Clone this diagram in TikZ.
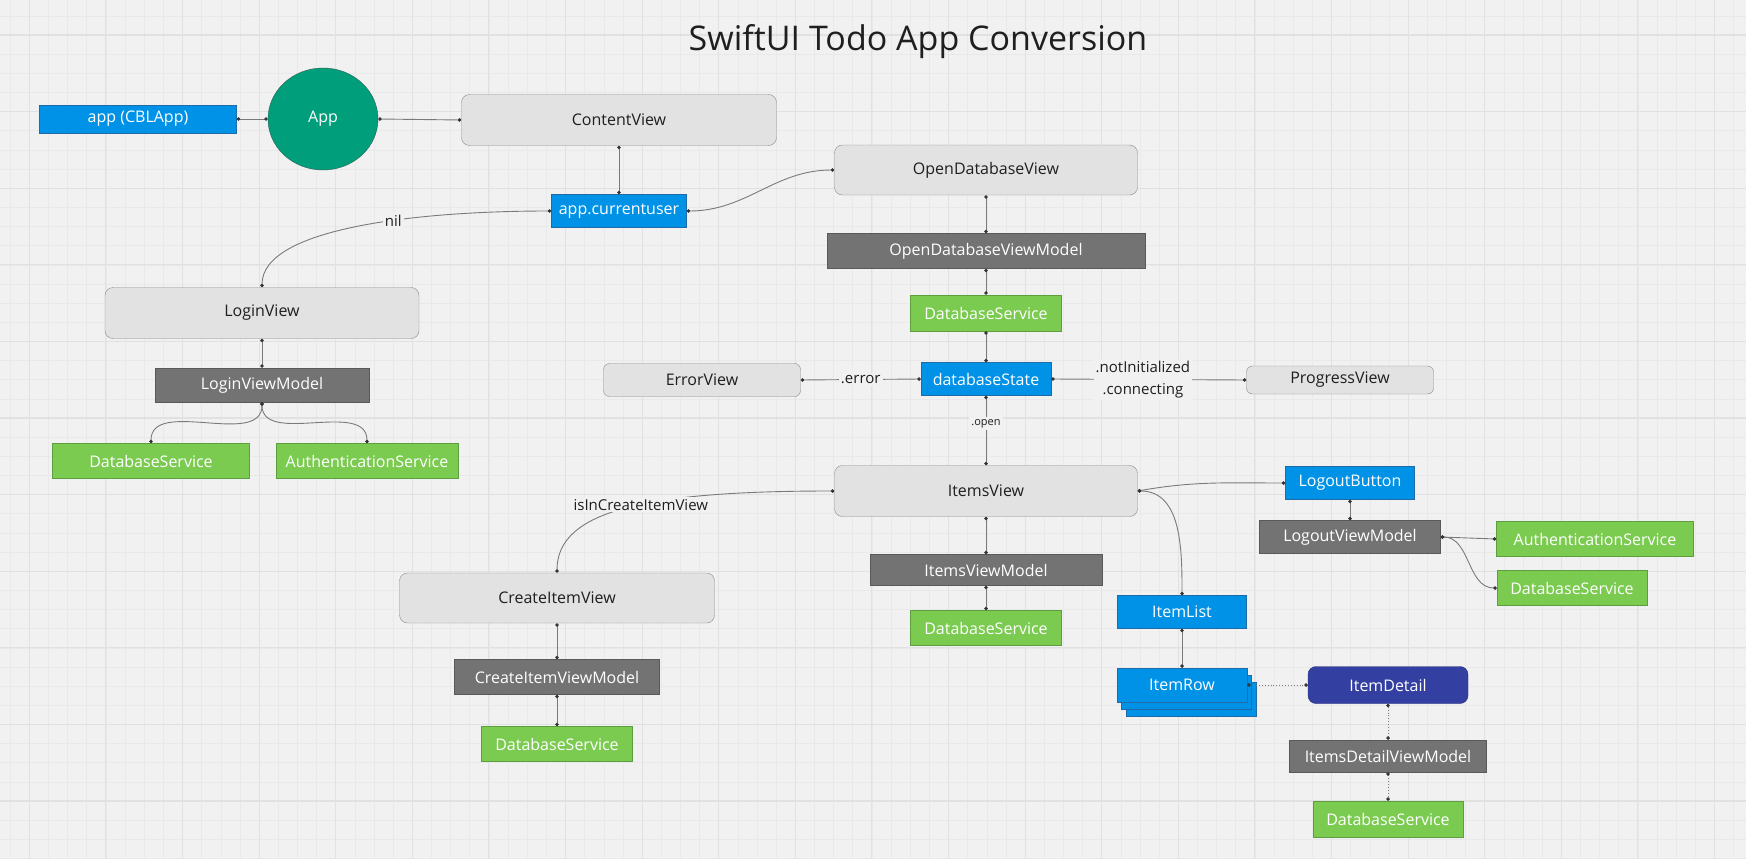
\documentclass[tikz,border=0pt]{standalone}
\usepackage{fontspec}
\setmainfont{Open Sans}
\usetikzlibrary{arrows.meta,shapes.geometric,shadows}
\definecolor{bg}{HTML}{F1F1F1}
\definecolor{gridmin}{HTML}{E9E9E9}
\definecolor{gridmaj}{HTML}{E1E1E1}
\definecolor{ink}{HTML}{1F1F1F}
\definecolor{viewfill}{HTML}{E2E2E2}
\definecolor{viewline}{HTML}{8A8A8A}
\definecolor{stateblue}{HTML}{0092E7}
\definecolor{stateline}{HTML}{1F6BA8}
\definecolor{svcgreen}{HTML}{7BCB51}
\definecolor{svcline}{HTML}{5E9E3F}
\definecolor{modelgray}{HTML}{737373}
\definecolor{modelline}{HTML}{595959}
\definecolor{appgreen}{HTML}{009E7B}
\definecolor{appline}{HTML}{2D5D50}
\definecolor{detailblue}{HTML}{3340A2}
\definecolor{detailline}{HTML}{25307A}
\definecolor{linkc}{HTML}{7A7A7A}
\definecolor{tipc}{HTML}{333333}
\begin{document}
\begin{tikzpicture}[x=1pt,y=1pt]
\tikzset{every node/.style={inner sep=0pt, font=\fontsize{16}{19}\selectfont}}
\tikzset{view/.style={draw=viewline, fill=viewfill, rounded corners=8pt, text=ink}}
\tikzset{state/.style={draw=stateline, fill=stateblue, text=white}}
\tikzset{model/.style={draw=modelline, fill=modelgray, text=white}}
\tikzset{svc/.style={draw=svcline, fill=svcgreen, text=white}}
\tikzset{wh/.style 2 args={minimum width=#1pt, minimum height=#2pt}}
\tikzset{link/.style={draw=linkc, line width=0.9pt, {Circle[length=3.5pt,color=tipc]}-{Circle[length=3.5pt,color=tipc]}}}
\tikzset{dotlink/.style={link, dotted}}
\tikzset{lbl/.style={fill=bg, inner sep=2pt, text=ink, font=\fontsize{15}{22}\selectfont}}
\useasboundingbox (0,0) rectangle (1746,-859);
\fill[bg] (0,0) rectangle (1746,-859);
\begin{scope}
\clip (0,0) rectangle (1746,-859);
\draw[gridmin, line width=0.6pt, step=19.15, shift={(29.3,-35)}] (-60,-860) grid (1740,60);
\draw[gridmaj, line width=1.1pt, step=76.6, shift={(29.3,-35)}] (-60,-860) grid (1740,60);
\end{scope}
\node[text=ink, font=\fontsize{34}{40}\selectfont] (title) at (918,-42) {SwiftUI Todo App Conversion};
% app and content
\node[state, wh={197}{28}] (app) at (138,-119) {app (CBLApp)};
\node[ellipse, draw=appline, fill=appgreen, text=white, wh={110}{102}] (appc) at (323,-119) {App};
\node[view, wh={315}{51}] (content) at (619,-120) {ContentView};
\node[state, wh={135}{33}] (cur) at (619,-211) {app.currentuser};
% open database
\node[view, wh={303}{50}] (opendb) at (986,-170) {OpenDatabaseView};
\node[model, wh={318}{35}] (opendbvm) at (986,-251) {OpenDatabaseViewModel};
\node[svc, wh={151}{36}] (opendbsvc) at (986,-313) {DatabaseService};
\node[state, wh={130}{33}] (dbstate) at (986,-379) {databaseState};
\node[view, rounded corners=6pt, wh={197}{33}] (err) at (702,-380) {ErrorView};
\node[view, rounded corners=6pt, wh={187}{28}] (prog) at (1340,-380) {ProgressView};
% login
\node[view, wh={314}{51}] (login) at (262,-313) {LoginView};
\node[model, wh={214}{34}] (loginvm) at (262,-385) {LoginViewModel};
\node[svc, wh={197}{35}] (loginsvc) at (151,-461) {DatabaseService};
\node[svc, wh={182}{35}] (loginauth) at (367,-461) {AuthenticationService};
% items
\node[view, wh={303}{51}] (items) at (986,-491) {ItemsView};
\node[model, wh={232}{31}] (itemsvm) at (986,-570) {ItemsViewModel};
\node[svc, wh={151}{35}] (itemssvc) at (986,-628) {DatabaseService};
\node[view, wh={315}{50}] (create) at (557,-598) {CreateItemView};
\node[model, wh={205}{35}] (createvm) at (557,-677) {CreateItemViewModel};
\node[svc, wh={151}{35}] (createsvc) at (557,-744) {DatabaseService};
\node[state, wh={129}{33}] (logout) at (1350,-483) {LogoutButton};
\node[model, wh={181}{33}] (logoutvm) at (1350,-537) {LogoutViewModel};
\node[svc, wh={197}{35}] (logoutauth) at (1595,-539) {AuthenticationService};
\node[svc, wh={150}{35}] (logoutsvc) at (1572,-588) {DatabaseService};
\node[state, wh={129}{33}] (list) at (1182,-612) {ItemList};
\node[state, wh={130}{34},
  copy shadow={shadow xshift=9pt, shadow yshift=-14pt, fill=stateblue, draw=stateline},
  copy shadow={shadow xshift=4.5pt, shadow yshift=-7pt, fill=stateblue, draw=stateline}] (row) at (1182,-685) {ItemRow};
\node[draw=detailline, fill=detailblue, text=white, rounded corners=8pt, wh={160}{37}] (detail) at (1388,-685) {ItemDetail};
\node[model, wh={197}{32}] (detailvm) at (1388,-756) {ItemsDetailViewModel};
\node[svc, wh={150}{36}] (detailsvc) at (1388,-819) {DatabaseService};
% connectors
\draw[link] (app.east) -- (appc.west);
\draw[link] (appc.east) -- (content.west);
\draw[link] (content.south) -- (cur.north);
\draw[link] (cur.east) to[out=0,in=180] (opendb.west);
\draw[link] (cur.west) .. controls +(-130,0) and +(0,60) .. node[lbl, pos=0.4] {nil} (login.north);
\draw[link] (login.south) -- (loginvm.north);
\draw[link] (loginvm.south) to[out=-90,in=90] (loginsvc.north);
\draw[link] (loginvm.south) to[out=-90,in=90] (loginauth.north);
\draw[link] (opendb.south) -- (opendbvm.north);
\draw[link] (opendbvm.south) -- (opendbsvc.north);
\draw[link] (opendbsvc.south) -- (dbstate.north);
\draw[link] (dbstate.west) -- node[lbl] {.error} (err.east);
\draw[link] (dbstate.east) -- node[lbl, align=center, pos=0.47] {.notInitialized\\.connecting} (prog.west);
\draw[link] (dbstate.south) -- node[lbl, pos=0.4, font=\fontsize{11}{13}\selectfont] {.open} (items.north);
\draw[link] (items.west) .. controls +(-185,0) and +(0,63) .. node[lbl, pos=0.45] {isInCreateItemView} (create.north);
\draw[link] (items.south) -- (itemsvm.north);
\draw[link] (itemsvm.south) -- (itemssvc.north);
\draw[link] (items.east) to[out=10,in=180] (logout.west);
\draw[link] (items.east) to[out=0,in=90] (list.north);
\draw[link] (create.south) -- (createvm.north);
\draw[link] (createvm.south) -- (createsvc.north);
\draw[link] (logout.south) -- (logoutvm.north);
\draw[link] (logoutvm.east) -- (logoutauth.west);
\draw[link] (logoutvm.east) to[out=0,in=180] (logoutsvc.west);
\draw[link] (list.south) -- (row.north);
\draw[dotlink] (row.east) -- (detail.west);
\draw[dotlink] (detail.south) -- (detailvm.north);
\draw[dotlink] (detailvm.south) -- (detailsvc.north);
\end{tikzpicture}
\end{document}
